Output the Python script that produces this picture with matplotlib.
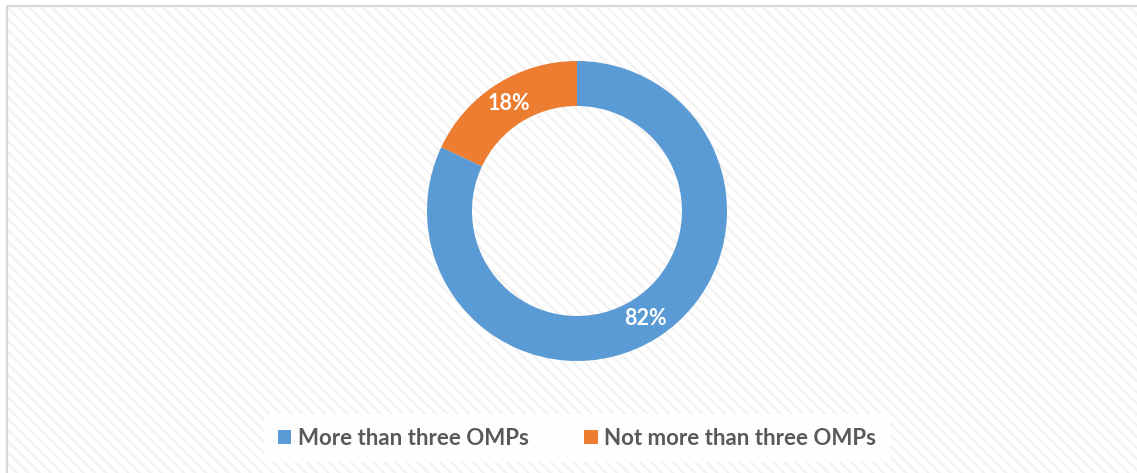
import matplotlib.pyplot as plt
from matplotlib.patches import Rectangle

categories = ['More than three OMPs', 'Not more than three OMPs']
shares = [82, 18]
colors = ['#5b9bd5', '#ed7d31']

W, H = 1137, 473
plt.rcParams['hatch.linewidth'] = 1.6

fig = plt.figure(figsize=(W / 100, H / 100), dpi=100)
fig.patch.set_facecolor('white')

# hatched chart area, then a light border (left/top visible)
hatch_bg = Rectangle((7 / W, -0.05), 1.1, 1 - 6 / H + 0.05, transform=fig.transFigure,
                     facecolor='white', edgecolor='#f2f2f2', linewidth=0,
                     hatch='\\\\\\', zorder=-10)
border = Rectangle((7 / W, -0.05), 1.1, 1 - 6 / H + 0.05, transform=fig.transFigure,
                   facecolor='none', edgecolor='#d9d9d9', linewidth=1.6, zorder=-9)
fig.patches.extend([hatch_bg, border])

# donut
cx, cy, r = 577, H - 211, 150
ax = fig.add_axes([(cx - r) / W, (cy - r) / H, 2 * r / W, 2 * r / H])
ax.set_facecolor('none')
wedges, texts, autotexts = ax.pie(
    shares, colors=colors, startangle=90, counterclock=False,
    radius=1, wedgeprops=dict(width=0.3, edgecolor='none'),
    autopct=lambda p: f'{p:.0f}%', pctdistance=0.85,
    textprops=dict(color='white', fontsize=15.5, fontweight='bold', family='Lato'))
ax.set_xlim(-1, 1)
ax.set_ylim(-1, 1)
ax.set_aspect('equal')
ax.axis('off')

# legend
leg = fig.legend(wedges, categories, loc='center', bbox_to_anchor=(577 / W, 1 - 438 / H),
                 ncol=2, frameon=True, fancybox=False, handlelength=0.6, handleheight=0.6,
                 handletextpad=0.3, columnspacing=2.5, borderpad=0.6, borderaxespad=0,
                 prop=dict(family='Lato', weight='bold', size=16))
leg.get_frame().set_facecolor('white')
leg.get_frame().set_edgecolor('none')
leg.get_frame().set_alpha(0.9)
for t in leg.get_texts():
    t.set_color('#595959')

fig.savefig('out.png', dpi=100)
